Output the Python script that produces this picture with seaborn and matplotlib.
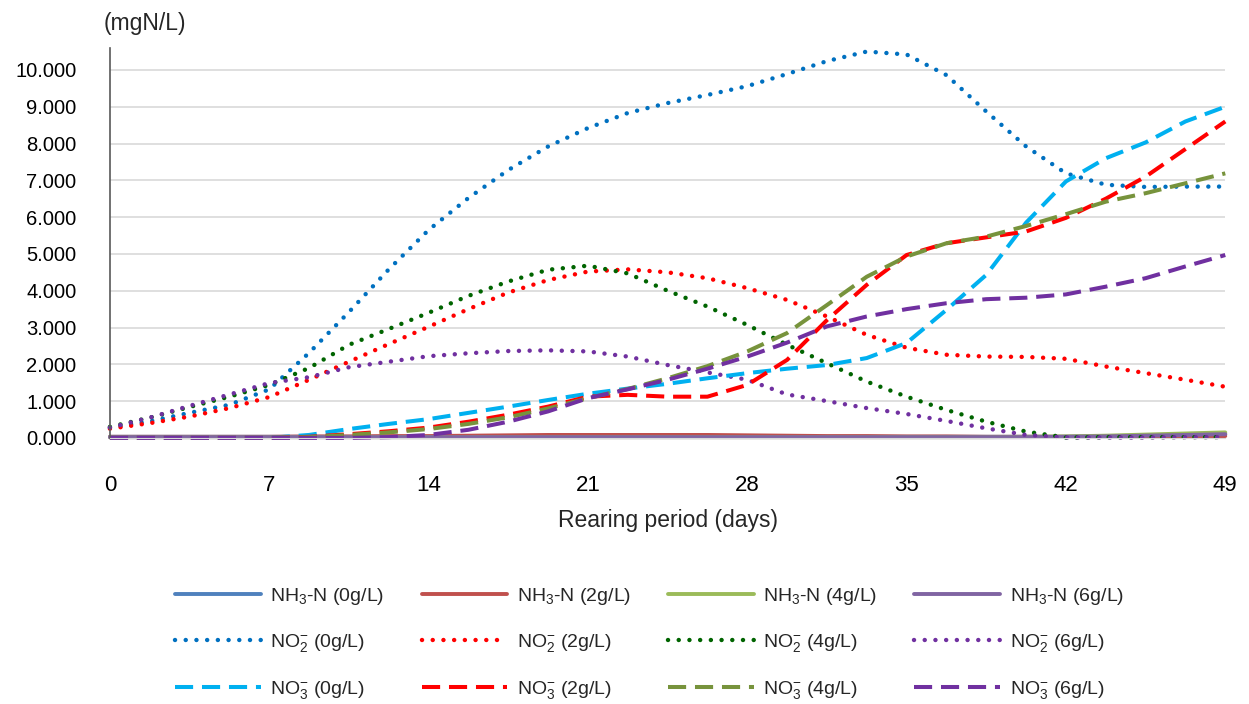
import numpy as np
import pandas as pd
import matplotlib
matplotlib.use('Agg')
import matplotlib.pyplot as plt
import seaborn as sns

# sampling days (every 1.75 days)
days = [0, 1.75, 3.5, 5.25, 7, 8.75, 10.5, 12.25, 14, 15.75, 17.5, 19.25, 21, 22.75, 24.5,
        26.25, 28, 29.75, 31.5, 33.25, 35, 36.75, 38.5, 40.25, 42, 43.75, 45.5, 47.25, 49]

nh3_0 = [0.03, 0.03, 0.03, 0.03, 0.03, 0.03, 0.03, 0.03, 0.03, 0.03, 0.03, 0.03, 0.03, 0.03, 0.03,
         0.03, 0.03, 0.03, 0.03, 0.03, 0.03, 0.03, 0.03, 0.03, 0.03, 0.05, 0.06, 0.08, 0.10]
nh3_2 = [0.03, 0.03, 0.03, 0.03, 0.03, 0.04, 0.04, 0.05, 0.05, 0.06, 0.07, 0.08, 0.08, 0.08, 0.08,
         0.08, 0.07, 0.06, 0.05, 0.05, 0.04, 0.04, 0.03, 0.03, 0.03, 0.03, 0.04, 0.04, 0.05]
nh3_4 = [0.02, 0.02, 0.02, 0.02, 0.02, 0.02, 0.02, 0.02, 0.02, 0.02, 0.02, 0.02, 0.02, 0.02, 0.02,
         0.02, 0.02, 0.02, 0.02, 0.02, 0.02, 0.02, 0.02, 0.03, 0.04, 0.06, 0.09, 0.12, 0.15]
nh3_6 = [0.02, 0.02, 0.02, 0.02, 0.02, 0.02, 0.02, 0.02, 0.02, 0.02, 0.02, 0.02, 0.02, 0.02, 0.02,
         0.02, 0.02, 0.02, 0.02, 0.02, 0.02, 0.02, 0.02, 0.02, 0.03, 0.04, 0.06, 0.08, 0.10]

no2_0 = [0.28, 0.45, 0.68, 0.90, 1.32, 2.31, 3.42, 4.58, 5.65, 6.52, 7.28, 7.92, 8.42, 8.83, 9.10,
         9.32, 9.56, 9.89, 10.24, 10.50, 10.42, 9.86, 8.87, 7.92, 7.19, 6.88, 6.82, 6.83, 6.83]
no2_2 = [0.25, 0.40, 0.58, 0.81, 1.11, 1.58, 2.07, 2.55, 3.02, 3.50, 3.95, 4.29, 4.52, 4.58, 4.50,
         4.34, 4.07, 3.75, 3.30, 2.80, 2.45, 2.26, 2.21, 2.20, 2.15, 1.94, 1.76, 1.58, 1.39]
no2_4 = [0.30, 0.55, 0.84, 1.12, 1.44, 1.90, 2.53, 2.96, 3.40, 3.86, 4.25, 4.57, 4.68, 4.47, 4.00,
         3.57, 3.07, 2.53, 2.03, 1.53, 1.12, 0.76, 0.44, 0.17, 0.01, 0.02, 0.02, 0.02, 0.02]
no2_6 = [0.28, 0.55, 0.87, 1.18, 1.49, 1.65, 1.92, 2.07, 2.22, 2.30, 2.36, 2.38, 2.35, 2.21, 1.98,
         1.78, 1.58, 1.18, 1.00, 0.81, 0.65, 0.46, 0.26, 0.08, 0.01, 0.01, 0.01, 0.02, 0.02]

no3_0 = [0.00, 0.00, 0.00, 0.00, 0.00, 0.08, 0.24, 0.38, 0.51, 0.68, 0.85, 1.03, 1.20, 1.34, 1.47,
         1.62, 1.76, 1.88, 1.98, 2.17, 2.58, 3.48, 4.43, 5.85, 6.97, 7.60, 8.03, 8.60, 9.00]
no3_2 = [0.00, 0.00, 0.00, 0.00, 0.00, 0.03, 0.10, 0.18, 0.28, 0.44, 0.63, 0.85, 1.12, 1.17, 1.12,
         1.12, 1.44, 2.12, 3.20, 4.16, 4.97, 5.29, 5.45, 5.61, 5.98, 6.50, 7.10, 7.85, 8.60]
no3_4 = [0.00, 0.00, 0.00, 0.00, 0.00, 0.02, 0.08, 0.15, 0.24, 0.38, 0.56, 0.80, 1.08, 1.33, 1.62,
         1.95, 2.35, 2.85, 3.61, 4.38, 4.93, 5.29, 5.47, 5.76, 6.08, 6.42, 6.65, 6.92, 7.19]
no3_6 = [0.00, 0.00, 0.00, 0.00, 0.00, 0.00, 0.00, 0.02, 0.08, 0.22, 0.44, 0.72, 1.08, 1.32, 1.58,
         1.88, 2.21, 2.59, 3.03, 3.30, 3.50, 3.66, 3.77, 3.81, 3.90, 4.11, 4.34, 4.66, 4.97]

conc = ['0g/L', '2g/L', '4g/L', '6g/L']

sns.set_style('white')
plt.rcParams['font.family'] = ['Liberation Sans', 'DejaVu Sans']
plt.rcParams['mathtext.fontset'] = 'custom'
plt.rcParams['mathtext.rm'] = 'Liberation Sans'
plt.rcParams['mathtext.it'] = 'Liberation Sans'

fig = plt.figure(figsize=(12.49, 7.04), dpi=100)
ax = fig.add_axes([0.088, 0.378, 0.893, 0.554])

dot = (0, (0.01, 2.4))
dash = (0, (4.5, 2.2))

series = [
    ('nh3', nh3_0, '#4f81bd', '-', 2.8),
    ('nh3', nh3_2, '#c0504d', '-', 2.8),
    ('nh3', nh3_4, '#9bbb59', '-', 2.8),
    ('nh3', nh3_6, '#8064a2', '-', 2.8),
    ('no2', no2_0, '#0070c0', dot, 3.2),
    ('no2', no2_2, '#ff0000', dot, 3.2),
    ('no2', no2_4, '#006400', dot, 3.2),
    ('no2', no2_6, '#7030a0', dot, 3.2),
    ('no3', no3_0, '#00b0f0', dash, 2.9),
    ('no3', no3_2, '#ff0000', dash, 2.9),
    ('no3', no3_4, '#77933c', dash, 2.9),
    ('no3', no3_6, '#7030a0', dash, 2.9),
]
names = {'nh3': r'NH$_3$-N', 'no2': r'NO$_2^{-}$', 'no3': r'NO$_3^{-}$'}

handles = {}
for i, (kind, vals, color, ls, lw) in enumerate(series):
    df = pd.DataFrame({'day': days, 'value': vals})
    label = names[kind] + ' (' + conc[i % 4] + ')'
    sns.lineplot(data=df, x='day', y='value', ax=ax, color=color, linestyle=ls,
                 linewidth=lw, dash_capstyle='round' if ls == dot else 'butt',
                 solid_joinstyle='round', label=label, clip_on=False)
    handles[(kind, i % 4)] = ax.get_lines()[-1]

ax.set_xlim(0, 49)
ax.set_ylim(0, 10.6)
ax.set_xticks(range(0, 50, 7))
ax.set_yticks(np.arange(0, 10.5, 1))
ax.set_yticklabels(['{:.3f}'.format(v) for v in np.arange(0, 10.5, 1)])
ax.tick_params(axis='both', length=0, colors='#000000')
ax.tick_params(axis='x', labelsize=16, pad=27)
ax.tick_params(axis='y', labelsize=14.5, pad=24)
ax.grid(axis='y', color='#d9d9d9', linewidth=1.2)
ax.set_axisbelow(True)
for s in ['top', 'right']:
    ax.spines[s].set_visible(False)
ax.spines['left'].set_color('#595959')
ax.spines['left'].set_linewidth(1.2)
ax.spines['bottom'].set_color('#d9d9d9')
ax.set_xlabel('Rearing period (days)', fontsize=16.5, labelpad=9)
ax.set_ylabel('')
ax.legend_.remove()
fig.text(0.116, 0.966, '(mgN/L)', fontsize=16.5, ha='center', va='center')

order = []
labels = []
for c in range(4):
    for kind in ['nh3', 'no2', 'no3']:
        order.append(handles[(kind, c)])
        labels.append(names[kind] + ' (' + conc[c] + ')')
fig.legend(order, labels, loc='center', bbox_to_anchor=(0.52, 0.086), ncol=4,
           frameon=False, fontsize=14, handlelength=4.4, handletextpad=0.5,
           columnspacing=1.9, labelspacing=1.3)

fig.savefig('out.png', dpi=100)
